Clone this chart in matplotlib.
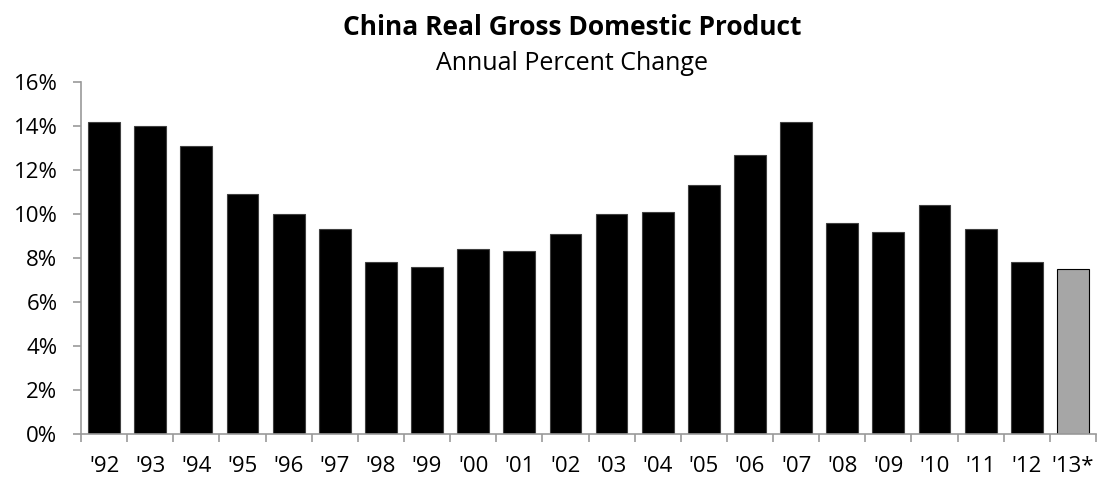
import matplotlib
matplotlib.use("Agg")
import matplotlib.pyplot as plt
import numpy as np
from matplotlib.ticker import FuncFormatter, FixedLocator

years = ["'92", "'93", "'94", "'95", "'96", "'97", "'98", "'99", "'00", "'01", "'02",
         "'03", "'04", "'05", "'06", "'07", "'08", "'09", "'10", "'11", "'12", "'13*"]
growth = [14.2, 14.0, 13.1, 10.9, 10.0, 9.3, 7.8, 7.6, 8.4, 8.3, 9.1,
          10.0, 10.1, 11.3, 12.7, 14.2, 9.6, 9.2, 10.4, 9.3, 7.8, 7.5]
estimate = [False] * 21 + [True]
yticks = [0, 2, 4, 6, 8, 10, 12, 14, 16]

plt.rcParams['font.family'] = ['Open Sans', 'DejaVu Sans']

fig = plt.figure(figsize=(10.97, 4.78), dpi=100)
ax = fig.add_axes([81/1097, 1 - 434/478, (1096 - 81)/1097, (434 - 82)/478])

x = np.arange(len(years))
colors = ['#a6a6a6' if e else 'black' for e in estimate]
edges = ['black' if e else '#404040' for e in estimate]
ax.bar(x, growth, width=0.69, color=colors, edgecolor=edges, linewidth=0.8, zorder=2)

ax.set_xlim(-0.5, len(years) - 0.5)
ax.set_ylim(0, 16)
ax.set_yticks(yticks)
ax.yaxis.set_major_formatter(FuncFormatter(lambda v, p: f"{int(v)}%"))
ax.set_xticks(x)
ax.set_xticklabels(years)
ax.xaxis.set_minor_locator(FixedLocator(np.arange(-0.5, len(years), 1.0)))

for s in ['top', 'right']:
    ax.spines[s].set_visible(False)
for s in ['left', 'bottom']:
    ax.spines[s].set_color('#999999')
    ax.spines[s].set_linewidth(1.2)

ax.tick_params(axis='y', direction='out', length=6, width=1.2, color='#999999',
               labelsize=16, pad=11, labelcolor='black')
ax.tick_params(axis='x', which='major', length=0, labelsize=16, pad=16, labelcolor='black')
ax.tick_params(axis='x', which='minor', direction='out', length=6, width=1.2, color='#999999')

fig.text(572/1097, 1 - 35/478, "China Real Gross Domestic Product", ha='center',
         va='baseline', fontsize=19, fontweight='bold')
fig.text(572/1097, 1 - 70/478, "Annual Percent Change", ha='center',
         va='baseline', fontsize=18)

fig.savefig("out.png", dpi=100)
